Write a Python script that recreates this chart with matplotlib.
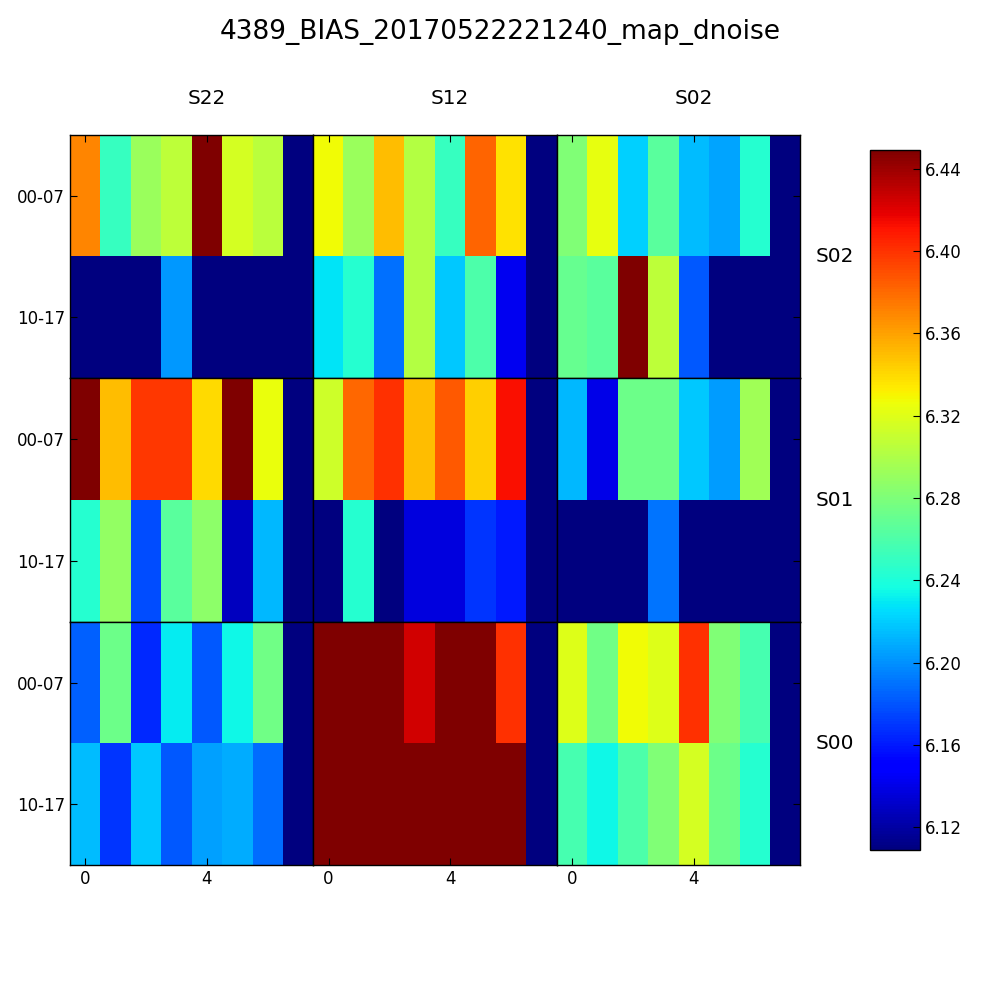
import numpy as np
import matplotlib
matplotlib.use("Agg")
import matplotlib.pyplot as plt

title = "4389_BIAS_20170522221240_map_dnoise"
col_names = ["S22", "S12", "S02"]
row_names = ["S02", "S01", "S00"]
ytick_labels = ["00-07", "10-17"]
xtick_pos = [0, 4]
cbar_ticks = [6.12, 6.16, 6.20, 6.24, 6.28, 6.32, 6.36, 6.40, 6.44]
vmin, vmax = 6.109, 6.449

# panel values: [row][col] -> 2 x 8 array (rows 00-07, 10-17)
s02_s22 = [[6.370, 6.250, 6.291, 6.306, 6.460, 6.316, 6.305, 6.10],
           [6.10, 6.10, 6.10, 6.203, 6.10, 6.10, 6.10, 6.10]]
s02_s12 = [[6.328, 6.291, 6.350, 6.302, 6.250, 6.382, 6.337, 6.10],
           [6.228, 6.244, 6.190, 6.302, 6.219, 6.260, 6.143, 6.10]]
s02_s02 = [[6.281, 6.323, 6.221, 6.265, 6.215, 6.207, 6.244, 6.10],
           [6.270, 6.265, 6.460, 6.306, 6.181, 6.10, 6.10, 6.10]]
s01_s22 = [[6.460, 6.350, 6.398, 6.398, 6.340, 6.460, 6.325, 6.10],
           [6.244, 6.289, 6.177, 6.265, 6.286, 6.128, 6.213, 6.10]]
s01_s12 = [[6.313, 6.380, 6.400, 6.350, 6.386, 6.344, 6.412, 6.10],
           [6.10, 6.244, 6.10, 6.138, 6.138, 6.169, 6.160, 6.10]]
s01_s02 = [[6.213, 6.140, 6.273, 6.273, 6.219, 6.204, 6.294, 6.10],
           [6.10, 6.10, 6.10, 6.191, 6.10, 6.10, 6.10, 6.10]]
s00_s22 = [[6.184, 6.273, 6.166, 6.230, 6.181, 6.235, 6.274, 6.10],
           [6.215, 6.170, 6.219, 6.181, 6.205, 6.209, 6.188, 6.10]]
s00_s12 = [[6.460, 6.460, 6.460, 6.425, 6.460, 6.460, 6.400, 6.10],
           [6.460, 6.460, 6.460, 6.460, 6.460, 6.460, 6.460, 6.10]]
s00_s02 = [[6.320, 6.274, 6.328, 6.320, 6.400, 6.281, 6.257, 6.10],
           [6.257, 6.235, 6.260, 6.281, 6.315, 6.273, 6.244, 6.10]]

panels = [[s02_s22, s02_s12, s02_s02],
          [s01_s22, s01_s12, s01_s02],
          [s00_s22, s00_s12, s00_s02]]

plt.rcParams['font.family'] = ['DejaVu Sans']
fig = plt.figure(figsize=(10, 10), dpi=100, facecolor='white')

left, right, top, bottom = 0.07, 0.80, 0.865, 0.135
w = (right - left) / 3
h = (top - bottom) / 3

im = None
for r in range(3):
    for c in range(3):
        ax = fig.add_axes([left + c * w, top - (r + 1) * h, w, h])
        data = np.array(panels[r][c])
        im = ax.imshow(data, cmap='jet', vmin=vmin, vmax=vmax,
                       interpolation='nearest', aspect='auto')
        for sp in ax.spines.values():
            sp.set_linewidth(1.0)
            sp.set_color('black')
        ax.tick_params(direction='in', length=5, width=0.8, labelsize=12,
                       top=(r == 0), bottom=(r == 2),
                       left=(c == 0), right=(c == 2),
                       labeltop=False, labelbottom=(r == 2),
                       labelleft=(c == 0), labelright=False)
        ax.set_xticks(xtick_pos)
        ax.set_yticks([0, 1])
        if c == 0:
            ax.set_yticklabels(ytick_labels)
        if r == 0:
            ax.text(4, -0.8, col_names[c], ha='center', va='center',
                    fontsize=14.4, clip_on=False)
        if c == 2:
            ax.text(8.02, 0.5, row_names[r], ha='left', va='center',
                    fontsize=14.4, clip_on=False)

cax = fig.add_axes([0.87, 0.15, 0.05, 0.70])
cb = fig.colorbar(im, cax=cax, ticks=cbar_ticks)
cb.ax.set_yticklabels([f"{t:.2f}" for t in cbar_ticks])
cb.ax.tick_params(direction='in', length=5, width=0.8, labelsize=12)
cb.outline.set_linewidth(1.0)

fig.suptitle(title, y=0.968, va='center', fontsize=19)
fig.savefig("out.png", dpi=100, facecolor='white')
